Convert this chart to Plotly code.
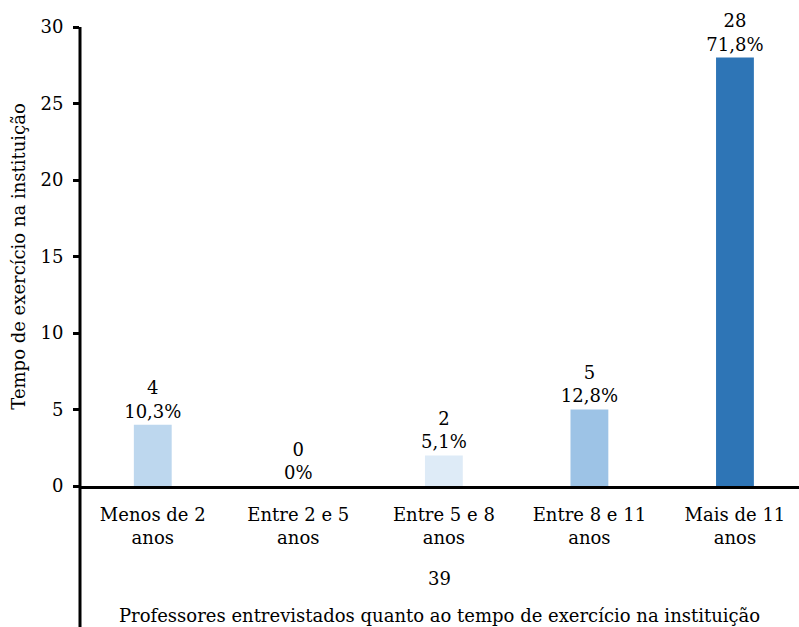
import plotly.graph_objects as go

categories = ["Menos de 2<br>anos", "Entre 2 e 5<br>anos", "Entre 5 e 8<br>anos", "Entre 8 e 11<br>anos", "Mais de 11<br>anos"]
counts = [4, 0, 2, 5, 28]
percents = ["10,3%", "0%", "5,1%", "12,8%", "71,8%"]
colors = ["#BDD7EE", "#BDD7EE", "#DEEBF7", "#9DC3E6", "#2E75B6"]
total_label = "39"
x_title = "Professores entrevistados quanto ao tempo de exercício na instituição"
y_title = "Tempo de exercício na instituição"
y_ticks = [0, 5, 10, 15, 20, 25, 30]

FONT = "DejaVu Serif"
FS = 18

fig = go.Figure()
fig.add_trace(go.Bar(
    x=list(range(len(categories))),
    y=counts,
    marker=dict(color=colors, line=dict(width=0)),
    width=0.26,
    text=[f"{c}<br>{p}" for c, p in zip(counts, percents)],
    textposition="outside",
    constraintext="none",
    textfont=dict(family=FONT, size=FS, color="black"),
    cliponaxis=False,
))

fig.update_layout(
    width=799, height=627,
    margin=dict(l=80, r=0, t=27, b=141),
    plot_bgcolor="white", paper_bgcolor="white",
    showlegend=False,
    font=dict(family=FONT, size=FS, color="black"),
    xaxis=dict(
        range=[-0.5, 4.44],
        tickmode="array",
        tickvals=list(range(len(categories))),
        ticktext=categories,
        showline=True, linecolor="black", linewidth=3,
        ticks="", showgrid=False, zeroline=False,
        ticklabelstandoff=10,
        tickfont=dict(family=FONT, size=FS, color="black"),
    ),
    yaxis=dict(
        range=[0, 30],
        tickvals=y_ticks,
        showline=False,
        ticks="outside", ticklen=6, tickwidth=3, tickcolor="black",
        showgrid=False, zeroline=False,
        ticklabelstandoff=6,
        tickfont=dict(family=FONT, size=FS, color="black"),
        title=dict(text=y_title, font=dict(family=FONT, size=FS, color="black"), standoff=10),
    ),
)

fig.add_shape(type="line", xref="paper", yref="paper",
              x0=0, x1=0, y0=-141/459, y1=1,
              line=dict(color="black", width=3))

fig.add_annotation(text=total_label, xref="paper", yref="paper",
                   x=0.5, y=-92/459, showarrow=False, yanchor="middle",
                   font=dict(family=FONT, size=FS, color="black"))
fig.add_annotation(text=x_title, xref="paper", yref="paper",
                   x=0.5, y=-129/459, showarrow=False, yanchor="middle",
                   font=dict(family=FONT, size=FS, color="black"))

fig.write_html("out.html")
